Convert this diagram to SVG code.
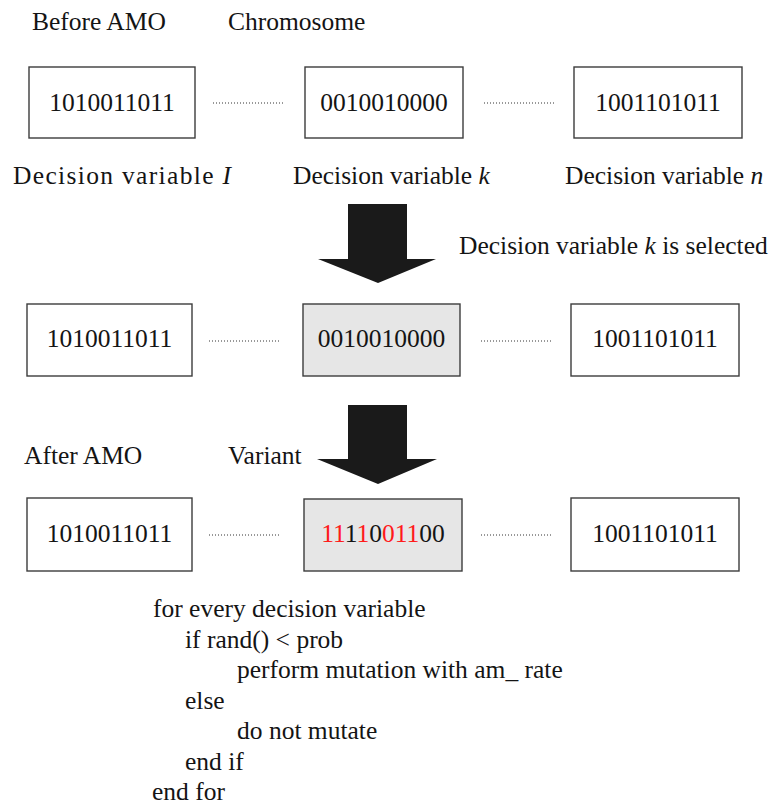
<svg xmlns="http://www.w3.org/2000/svg" width="771" height="805" viewBox="0 0 771 805">
  <style>
    text { font-family: 'Liberation Serif', Tinos, 'Times New Roman', 'DejaVu Serif', serif; font-size: 25.5px; fill: #141414; }
    .bits { text-anchor: middle; }
    .box { fill: #ffffff; stroke: #3c3c3c; stroke-width: 1.4; }
    .box.sel { fill: #e6e6e6; }
    .dots { stroke: #333333; stroke-width: 1; stroke-dasharray: 1 2; fill: none; }
    .arrow { fill: #1a1a1a; }
    .red { fill: #ff1a1a; }
    .it { font-style: italic; }
  </style>

  <!-- headings -->
  <text x="32" y="30">Before AMO</text>
  <text x="228" y="30">Chromosome</text>

  <!-- row 1: chromosome before AMO -->
  <g id="r1-var1">
    <rect class="box" x="29" y="67" width="166" height="71"/>
    <text class="bits" x="112" y="111">1010011011</text>
  </g>
  <g id="r1-vark">
    <rect class="box" x="305" y="67" width="158" height="71"/>
    <text class="bits" x="384" y="111">0010010000</text>
  </g>
  <g id="r1-varn">
    <rect class="box" x="574" y="67" width="168" height="71"/>
    <text class="bits" x="658" y="111">1001101011</text>
  </g>

  <text x="13" y="184" textLength="218" lengthAdjust="spacing">Decision variable <tspan class="it">I</tspan></text>
  <text x="293" y="184">Decision variable <tspan class="it">k</tspan></text>
  <text x="565" y="184">Decision variable <tspan class="it">n</tspan></text>

  <text x="459" y="254">Decision variable <tspan class="it">k</tspan> is selected</text>

  <!-- row 2: selected variable -->
  <g id="r2-var1">
    <rect class="box" x="27" y="304" width="165" height="72"/>
    <text class="bits" x="109.5" y="347">1010011011</text>
  </g>
  <g id="r2-vark">
    <rect class="box sel" x="303" y="304" width="157" height="72"/>
    <text class="bits" x="381.5" y="347">0010010000</text>
  </g>
  <g id="r2-varn">
    <rect class="box" x="571" y="304" width="168" height="72"/>
    <text class="bits" x="655" y="347">1001101011</text>
  </g>

  <text x="24" y="464">After AMO</text>
  <text x="228" y="464">Variant</text>

  <!-- row 3: chromosome after AMO -->
  <g id="r3-var1">
    <rect class="box" x="27" y="498" width="165" height="73"/>
    <text class="bits" x="109.5" y="542">1010011011</text>
  </g>
  <g id="r3-vark">
    <rect class="box sel" x="304" y="499" width="158" height="72"/>
    <text class="bits" x="383" y="542"><tspan class="red">11</tspan>1<tspan class="red">1</tspan>0<tspan class="red">011</tspan>00</text>
  </g>
  <g id="r3-varn">
    <rect class="box" x="571" y="498" width="168" height="73"/>
    <text class="bits" x="655" y="542">1001101011</text>
  </g>

  <!-- connectors: dotted gaps and block arrows -->
  <g id="connectors">
    <line class="dots" x1="213" y1="103" x2="284" y2="103"/>
    <line class="dots" x1="484" y1="103" x2="555" y2="103"/>
    <line class="dots" x1="209" y1="341" x2="280" y2="341"/>
    <line class="dots" x1="481" y1="341" x2="552" y2="341"/>
    <line class="dots" x1="209" y1="535" x2="280" y2="535"/>
    <line class="dots" x1="481" y1="535" x2="552" y2="535"/>
    <polygon class="arrow" points="348,204 407,204 407,259 436,259 378,283 318,259 348,259"/>
    <polygon class="arrow" points="348,405 407,405 407,459 437,459 378,484 317,459 348,459"/>
  </g>

  <!-- pseudocode -->
  <text x="153" y="617">for every decision variable</text>
  <text x="185" y="647.5">if rand() &lt; prob</text>
  <text x="237" y="678">perform mutation with am_ rate</text>
  <text x="185" y="708.5">else</text>
  <text x="237" y="739">do not mutate</text>
  <text x="185" y="769.5">end if</text>
  <text x="152" y="800">end for</text>
</svg>
